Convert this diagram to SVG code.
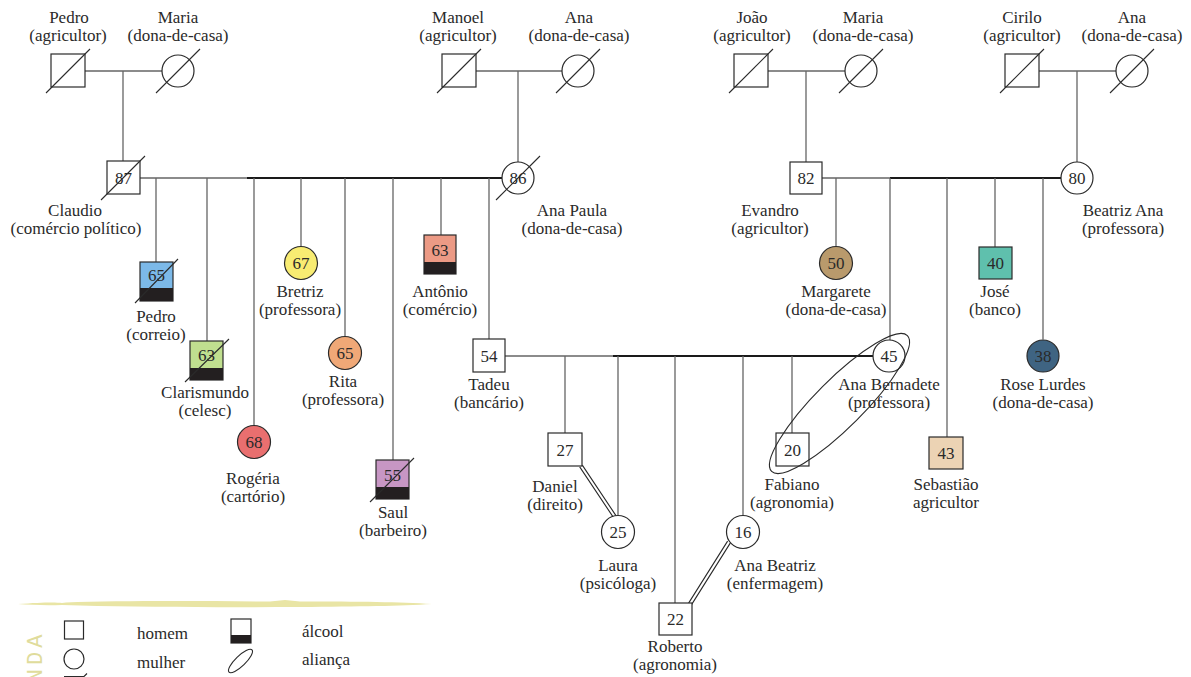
<svg xmlns="http://www.w3.org/2000/svg" width="1191" height="677" viewBox="0 0 1191 677">
<style>
text{font-family:"Liberation Serif","Times New Roman",serif;font-size:17px;fill:#2a2a2a;text-anchor:middle}
.s{fill:#fff;stroke:#2a2a2a;stroke-width:1.2}
.sl{stroke:#2a2a2a;stroke-width:1.1;fill:none}
.ln{stroke:#666;stroke-width:1.3;fill:none}
.lb{stroke:#1a1a1a;stroke-width:2;fill:none}
.al{fill:#231f20}
.lg{text-anchor:start}
</style>
<rect width="1191" height="677" fill="#fff"/>
<g id="connectors">
<path class="ln" d="M82,71H162M123,71V161M472,71H562M518,71V162M766,71H845M806,71V162M1037,71H1116M1077,71V162"/>
<path class="ln" d="M140,178H247M822,178H890M505,356H613"/>
<path class="lb" d="M247,178H502M890,178H1061M613,356H873"/>
<path class="ln" d="M156,178V262M207,178V341M254,178V425.5M301,178V246.5M345,178V336.5M393,178V460M441,178V235M489,178V339"/>
<path class="ln" d="M836,178V246.5M890,178V340M947,178V437M995,178V247M1043,178V339.5"/>
<path class="ln" d="M565,356V433M618,356V515.5M675,356V603M743,356V515.5M792,356V433"/>
<path class="sl" d="M579.7,466.9L613.7,517.9M582.3,465.1L616.3,516.1"/>
<path class="sl" d="M688.6,603.1L727.6,541.1M691.4,604.9L730.4,542.9"/>
</g>
<g id="pedro-avo"><rect class="s" x="51" y="54" width="34" height="33"/><line class="sl" x1="46" y1="93" x2="90" y2="49"/><text x="69" y="23">Pedro</text><text x="68" y="41">(agricultor)</text></g>
<g id="maria-avo"><circle class="s" cx="178" cy="71" r="16"/><line class="sl" x1="156" y1="93" x2="200" y2="49"/><text x="178" y="23">Maria</text><text x="178" y="41">(dona-de-casa)</text></g>
<g id="manoel"><rect class="s" x="442" y="54" width="34" height="33"/><line class="sl" x1="437" y1="93" x2="481" y2="49"/><text x="458" y="23">Manoel</text><text x="458" y="41">(agricultor)</text></g>
<g id="ana-avo1"><circle class="s" cx="578" cy="71" r="16"/><line class="sl" x1="556" y1="93" x2="600" y2="49"/><text x="579" y="23">Ana</text><text x="579" y="41">(dona-de-casa)</text></g>
<g id="joao"><rect class="s" x="734" y="54" width="34" height="33"/><line class="sl" x1="729" y1="93" x2="773" y2="49"/><text x="752" y="23">João</text><text x="752" y="41">(agricultor)</text></g>
<g id="maria-avo2"><circle class="s" cx="861" cy="71" r="16"/><line class="sl" x1="839" y1="93" x2="883" y2="49"/><text x="863" y="23">Maria</text><text x="863" y="41">(dona-de-casa)</text></g>
<g id="cirilo"><rect class="s" x="1005" y="54" width="34" height="33"/><line class="sl" x1="1000" y1="93" x2="1044" y2="49"/><text x="1022" y="23">Cirilo</text><text x="1022" y="41">(agricultor)</text></g>
<g id="ana-avo2"><circle class="s" cx="1132" cy="71" r="16"/><line class="sl" x1="1110" y1="93" x2="1154" y2="49"/><text x="1132" y="23">Ana</text><text x="1132" y="41">(dona-de-casa)</text></g>

<g id="claudio"><rect class="s" x="107" y="161" width="33" height="33"/><text x="123.5" y="184">87</text><line class="sl" x1="101" y1="200" x2="145" y2="156"/><text x="75" y="216">Claudio</text><text x="76" y="234">(comércio político)</text></g>
<g id="ana-paula"><circle class="s" cx="518" cy="178" r="16"/><text x="518" y="184">86</text><line class="sl" x1="496" y1="200" x2="540" y2="156"/><text x="572" y="216">Ana Paula</text><text x="572" y="234">(dona-de-casa)</text></g>
<g id="evandro"><rect class="s" x="790" y="162" width="32" height="32"/><text x="806" y="184">82</text><text x="770" y="216">Evandro</text><text x="770" y="234">(agricultor)</text></g>
<g id="beatriz-ana"><circle class="s" cx="1077" cy="178" r="16"/><text x="1077" y="184">80</text><text x="1123" y="216">Beatriz Ana</text><text x="1123" y="234">(professora)</text></g>

<g id="pedro"><rect class="s" x="140" y="262" width="33" height="39" style="fill:#7cb9e8"/><rect class="al" x="140" y="288" width="33" height="13"/><text x="156.5" y="281">65</text><line class="sl" x1="135" y1="303" x2="178" y2="259"/><text x="156" y="322">Pedro</text><text x="156" y="340">(correio)</text></g>
<g id="clarismundo"><rect class="s" x="190" y="341" width="33" height="39" style="fill:#c0df8f"/><rect class="al" x="190" y="368" width="33" height="12"/><text x="206.5" y="361">63</text><line class="sl" x1="185" y1="382" x2="229" y2="339"/><text x="205" y="398">Clarismundo</text><text x="205" y="416">(celesc)</text></g>
<g id="rogeria"><circle class="s" cx="254" cy="442" r="16.5" style="fill:#e96f6f"/><text x="254" y="448">68</text><text x="253" y="484">Rogéria</text><text x="253" y="502">(cartório)</text></g>
<g id="bretriz"><circle class="s" cx="301" cy="263" r="16.5" style="fill:#f8ec72"/><text x="301" y="269">67</text><text x="300" y="297">Bretriz</text><text x="300" y="315">(professora)</text></g>
<g id="rita"><circle class="s" cx="345" cy="353" r="16.5" style="fill:#f0a877"/><text x="345" y="359">65</text><text x="343" y="387">Rita</text><text x="343" y="405">(professora)</text></g>
<g id="saul"><rect class="s" x="376" y="460" width="33" height="39" style="fill:#c796c4"/><rect class="al" x="376" y="487" width="33" height="12"/><text x="392.5" y="481">55</text><line class="sl" x1="370" y1="502" x2="414" y2="458"/><text x="393" y="518">Saul</text><text x="393" y="536">(barbeiro)</text></g>
<g id="antonio"><rect class="s" x="424" y="235" width="32" height="39" style="fill:#ec9a85"/><rect class="al" x="424" y="262" width="32" height="12"/><text x="440" y="256">63</text><text x="440" y="297">Antônio</text><text x="440" y="315">(comércio)</text></g>
<g id="tadeu"><rect class="s" x="473" y="339" width="32" height="33"/><text x="489" y="362">54</text><text x="489" y="390">Tadeu</text><text x="489" y="408">(bancário)</text></g>

<g id="margarete"><circle class="s" cx="836" cy="263" r="16.5" style="fill:#b99a6c"/><text x="836" y="269">50</text><text x="836" y="297">Margarete</text><text x="836" y="315">(dona-de-casa)</text></g>
<g id="ana-bernadete"><circle class="s" cx="889" cy="356" r="16"/><text x="889" y="362">45</text><text x="889" y="390">Ana Bernadete</text><text x="889" y="408">(professora)</text></g>
<g id="sebastiao"><rect class="s" x="929" y="437" width="34" height="32" style="fill:#ecd3b4"/><text x="946" y="459">43</text><text x="946" y="490">Sebastião</text><text x="946" y="508">agricultor</text></g>
<g id="jose"><rect class="s" x="979" y="247" width="33" height="32" style="fill:#5fc0ad"/><text x="995.5" y="269">40</text><text x="995" y="297">José</text><text x="995" y="315">(banco)</text></g>
<g id="rose-lurdes"><circle class="s" cx="1043" cy="356" r="16" style="fill:#3f6482"/><text x="1043" y="362">38</text><text x="1043" y="390">Rose Lurdes</text><text x="1043" y="408">(dona-de-casa)</text></g>

<g id="daniel"><rect class="s" x="548" y="433" width="34" height="33"/><text x="565" y="456">27</text><text x="555" y="492">Daniel</text><text x="555" y="510">(direito)</text></g>
<g id="laura"><circle class="s" cx="618" cy="532" r="16.5"/><text x="618" y="538">25</text><text x="618" y="571">Laura</text><text x="618" y="589">(psicóloga)</text></g>
<g id="roberto"><rect class="s" x="659" y="603" width="33" height="32"/><text x="675.5" y="625">22</text><text x="675" y="652">Roberto</text><text x="675" y="670">(agronomia)</text></g>
<g id="ana-beatriz"><circle class="s" cx="743" cy="532" r="16.5"/><text x="743" y="538">16</text><text x="775" y="571">Ana Beatriz</text><text x="775" y="589">(enfermagem)</text></g>
<g id="fabiano"><rect class="s" x="776" y="433" width="33" height="33"/><text x="792.5" y="456">20</text><text x="792" y="490">Fabiano</text><text x="792" y="508">(agronomia)</text></g>
<g id="alianca"><ellipse cx="839.5" cy="403.5" rx="96" ry="24" transform="rotate(-45 839.5 403.5)" class="sl"/></g>

<g id="legenda">
<path d="M18,604 C40,602.5 55,602 62,603 L66,602.5 C120,600.5 200,601 270,601.5 L285,600 L300,601.5 C360,601.5 400,602 432,604 C400,606 360,606.5 300,607 C220,607.5 140,607 80,605.5 L62,605 C45,605.5 30,605 18,604 Z" fill="#e9e5a5"/>
<text transform="translate(42,751) rotate(-90)" style="text-anchor:start;fill:#e0dc9c;font-family:'Liberation Mono',monospace;font-size:22px;letter-spacing:4px">LEGENDA</text>
<rect class="s" x="64.5" y="621" width="19" height="18"/>
<circle class="s" cx="74" cy="659" r="10"/>
<path class="sl" d="M64,676.5H84L87,673.5"/>
<text class="lg" x="137" y="639">homem</text>
<text class="lg" x="137" y="668">mulher</text>
<rect class="s" x="231" y="619" width="20" height="24"/>
<rect class="al" x="231" y="635" width="20" height="8"/>
<ellipse class="sl" cx="240.5" cy="661" rx="16" ry="5" transform="rotate(-44 240.5 661)"/>
<text class="lg" x="302" y="637">álcool</text>
<text class="lg" x="302" y="665">aliança</text>
</g>
</svg>
